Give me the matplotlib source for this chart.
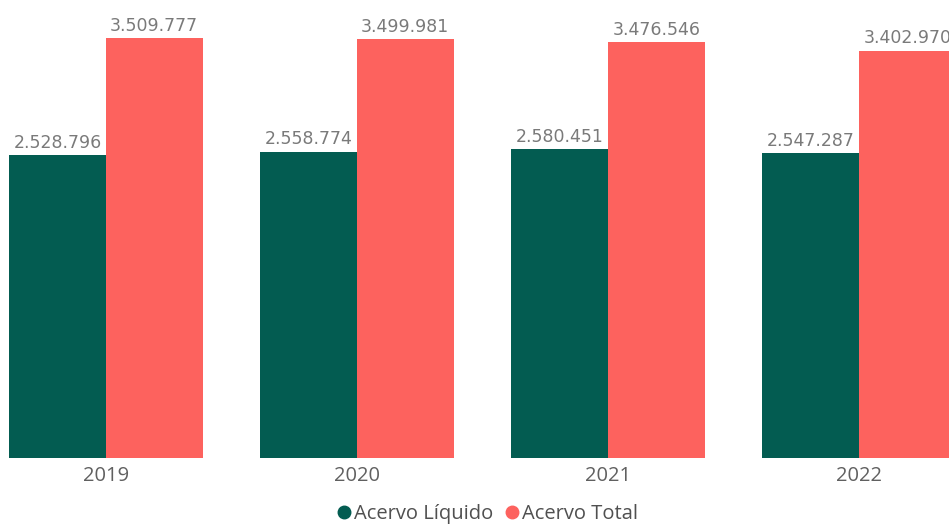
import matplotlib.pyplot as plt
from matplotlib.lines import Line2D
import numpy as np

anos = ['2019', '2020', '2021', '2022']
acervo_liquido = [2528796, 2558774, 2580451, 2547287]
acervo_total = [3509777, 3499981, 3476546, 3402970]

verde = '#035C51'
vermelho = '#FD625E'

def fmt(v):
    return f'{v:,}'.replace(',', '.')

fig = plt.figure(figsize=(9.49, 5.24), dpi=100)
ax = fig.add_axes([0, 66 / 524, 1, 458 / 524])

x = np.arange(len(anos))
w = 0.385
b1 = ax.bar(x - w / 2, acervo_liquido, w, color=verde)
b2 = ax.bar(x + w / 2, acervo_total, w, color=vermelho)

label_font = ['DejaVu Sans Condensed', 'Liberation Sans Narrow', 'DejaVu Sans']
for bars, vals in [(b1, acervo_liquido), (b2, acervo_total)]:
    for rect, v in zip(bars, vals):
        ax.annotate(fmt(v), (rect.get_x() + rect.get_width() / 2, v),
                    xytext=(0, 2.5), textcoords='offset points',
                    ha='center', va='bottom', fontsize=12.5,
                    color='#7a7a7a', family=label_font)

ax.set_xlim(-0.422, 3.359)
ax.set_ylim(0, 3509777 * 458 / 420)
ax.set_xticks(x)
ax.set_xticklabels(anos, fontsize=14.5, color='#606060', family='Open Sans')
ax.tick_params(axis='x', length=0, pad=6)
ax.set_yticks([])
for s in ax.spines.values():
    s.set_visible(False)

handles = [Line2D([], [], marker='o', linestyle='', color=verde, markersize=9),
           Line2D([], [], marker='o', linestyle='', color=vermelho, markersize=9)]
fig.legend(handles, ['Acervo Líquido', 'Acervo Total'], loc='center',
           bbox_to_anchor=(486 / 949, 1 - 514 / 524), ncol=2, frameon=False,
           handletextpad=0.0, columnspacing=0.4, handlelength=1.0,
           prop={'family': 'Open Sans', 'size': 14.5}, labelcolor='#505050')

fig.savefig('out.png', dpi=100)
